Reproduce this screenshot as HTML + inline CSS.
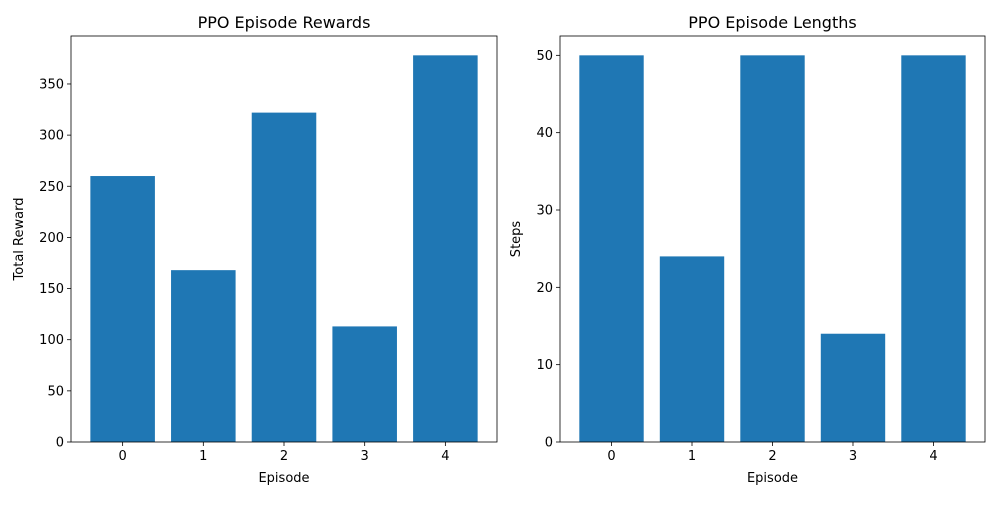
<!DOCTYPE html>
<html><head><meta charset="utf-8"><style>
body{margin:0;background:#fff;font-family:"Liberation Sans","DejaVu Sans",sans-serif;}
svg text{font-family:"DejaVu Sans","Liberation Sans",sans-serif;}
</style></head><body>
<svg id="chart" width="1000" height="500"></svg>
<script>
const categories=[0,1,2,3,4];
const rewards=[260,168,322,113,378];
const lengths=[50,24,50,14,50];
const rewardTicks=[0,50,100,150,200,250,300,350];
const lengthTicks=[0,10,20,30,40,50];
const NS="http://www.w3.org/2000/svg";
const svg=document.getElementById('chart');
function mk(t,a,p){const e=document.createElementNS(NS,t);for(const k in a)e.setAttribute(k,a[k]);(p||svg).appendChild(e);return e;}
function panel(name,L,R,T,B,vals,ticks,title,ylab){
  const g=mk('g',{});
  
  
  const ymax=Math.max(...vals)*1.05;
  const xmin=-0.64,xmax=categories.length-1+0.64;
  const xs=v=>L+(v-xmin)/(xmax-xmin)*(R-L);
  const ys=v=>B-v/ymax*(B-T);
  categories.forEach((c,i)=>{
    const r=mk('rect',{x:xs(c-0.4),y:ys(vals[i]),width:xs(c+0.4)-xs(c-0.4),height:B-ys(vals[i]),fill:'#1f77b4'},g);
    
    
    mk('line',{x1:xs(c),x2:xs(c),y1:B,y2:B+4,stroke:'#000','stroke-width':0.8},g);
    const t=mk('text',{x:xs(c),y:B+18,'text-anchor':'middle','font-size':13},g);t.textContent=c;
    
    
  });
  ticks.forEach(v=>{
    mk('line',{x1:L-4,x2:L,y1:ys(v),y2:ys(v),stroke:'#000','stroke-width':0.8},g);
    const t=mk('text',{x:L-7,y:ys(v)+4.5,'text-anchor':'end','font-size':13},g);t.textContent=v;
    
    
  });
  mk('rect',{x:L,y:T,width:R-L,height:B-T,fill:'none',stroke:'#000','stroke-width':0.8},g);
  const tt=mk('text',{x:(L+R)/2,y:T-8,'text-anchor':'middle','font-size':16},g);tt.textContent=title;
  
  
  const xl=mk('text',{x:(L+R)/2,y:B+40,'text-anchor':'middle','font-size':13},g);xl.textContent='Episode';
  
  
  const yx=L-(ticks[ticks.length-1]>=100?48:40);
  const yl=mk('text',{x:yx,y:(T+B)/2,'text-anchor':'middle','font-size':13,transform:`rotate(-90 ${yx} ${(T+B)/2})`},g);yl.textContent=ylab;
  
  
}
panel('rewards-chart',71,497,36,442,rewards,rewardTicks,'PPO Episode Rewards','Total Reward');
panel('lengths-chart',560,985,36,442,lengths,lengthTicks,'PPO Episode Lengths','Steps');
</script>
</body></html>
